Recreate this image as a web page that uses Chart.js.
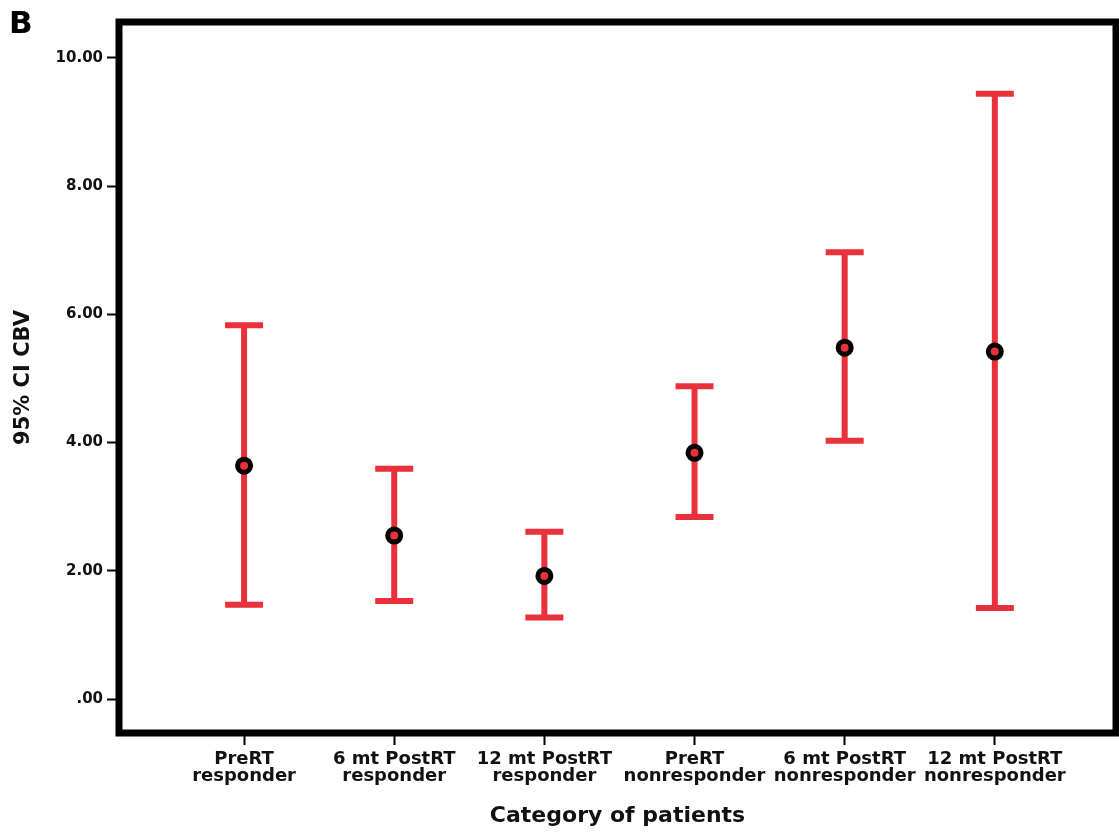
<!DOCTYPE html>
<html>
<head>
<meta charset="utf-8">
<script src="https://cdn.jsdelivr.net/npm/chart.js@4.4.1/dist/chart.umd.min.js"></script>
<style>
html,body{margin:0;padding:0;background:#fff;overflow:hidden;}
#wrap{width:1119px;height:834px;position:relative;overflow:hidden;}
canvas{display:block;}
</style>
</head>
<body>
<div id="wrap"><canvas id="c"></canvas></div>
<script>
const categories = [
  ["PreRT", "responder"],
  ["6 mt PostRT", "responder"],
  ["12 mt PostRT", "responder"],
  ["PreRT", "nonresponder"],
  ["6 mt PostRT", "nonresponder"],
  ["12 mt PostRT", "nonresponder"]
];
const means = [3.64, 2.55, 1.92, 3.84, 5.48, 5.42];
const lower = [1.47, 1.53, 1.27, 2.84, 4.03, 1.42];
const upper = [5.83, 3.59, 2.61, 4.88, 6.97, 9.44];
const yTicks = [0, 2, 4, 6, 8, 10];

const RED = '#e8313b';
const FONT = "'DejaVu Sans', 'Liberation Sans', Arial, sans-serif";

const errorBars = {
  id: 'errorBars',
  beforeDatasetsDraw(chart) {
    const {ctx, scales: {x, y}} = chart;
    ctx.save();
    ctx.strokeStyle = RED;
    ctx.lineWidth = 6;
    ctx.lineCap = 'butt';
    for (let i = 0; i < means.length; i++) {
      const px = x.getPixelForValue(i);
      const pu = y.getPixelForValue(upper[i]);
      const pl = y.getPixelForValue(lower[i]);
      ctx.beginPath();
      ctx.moveTo(px, pu);
      ctx.lineTo(px, pl);
      ctx.moveTo(px - 19, pu);
      ctx.lineTo(px + 19, pu);
      ctx.moveTo(px - 19, pl);
      ctx.lineTo(px + 19, pl);
      ctx.stroke();
    }
    ctx.restore();
  }
};

const frame = {
  id: 'frame',
  afterDraw(chart) {
    const {ctx, chartArea: a} = chart;
    ctx.save();
    ctx.strokeStyle = '#000';
    ctx.lineWidth = 7;
    ctx.strokeRect(a.left, a.top, a.right - a.left, a.bottom - a.top);
    ctx.fillStyle = '#000';
    ctx.font = "bold 31px " + FONT;
    ctx.textBaseline = 'alphabetic';
    ctx.textAlign = 'left';
    ctx.fillText('B', 9, 33);
    ctx.restore();
  }
};

new Chart(document.getElementById('c'), {
  type: 'scatter',
  data: {
    datasets: [{
      data: means.map((m, i) => ({x: i, y: m})),
      pointRadius: 6.5,
      pointHoverRadius: 6.5,
      pointBorderWidth: 5,
      pointBorderColor: '#000',
      pointBackgroundColor: RED
    }]
  },
  options: {
    responsive: true,
    maintainAspectRatio: false,
    animation: false,
    devicePixelRatio: 1,
    layout: {autoPadding: false, padding: {top: 22, right: 3, left: 0, bottom: 0}},
    plugins: {legend: {display: false}, tooltip: {enabled: false}},
    scales: {
      x: {
        type: 'linear',
        min: -0.833,
        max: 5.807,
        afterFit(s) { s.height = 101; s.paddingLeft = 0; s.paddingRight = 0; },
        afterBuildTicks(s) { s.ticks = categories.map((c, i) => ({value: i})); },
        grid: {drawOnChartArea: false, drawTicks: true, tickLength: 12, tickWidth: 2, tickColor: '#000'},
        border: {display: false},
        ticks: {
          autoSkip: false,
          maxRotation: 0,
          padding: 6,
          color: '#111',
          font: {family: FONT, weight: 'bold', size: 18, lineHeight: 0.95},
          callback(v) { return categories[v] || ''; }
        },
        title: {
          display: true,
          text: 'Category of patients',
          color: '#111',
          font: {family: FONT, weight: 'bold', size: 22},
          padding: {top: 0, bottom: 5}
        }
      },
      y: {
        type: 'linear',
        min: -0.53,
        max: 10.56,
        afterFit(s) { s.width = 119; s.paddingTop = 0; s.paddingBottom = 0; },
        afterBuildTicks(s) { s.ticks = yTicks.map(v => ({value: v})); },
        grid: {drawOnChartArea: false, drawTicks: true, tickLength: 12, tickWidth: 2, tickColor: '#000'},
        border: {display: false},
        ticks: {
          padding: 4,
          color: '#111',
          font: {family: FONT, weight: 'bold', size: 15},
          callback(v) { return v === 0 ? '.00' : v.toFixed(2); }
        },
        title: {
          display: true,
          text: '95% CI CBV',
          color: '#111',
          font: {family: FONT, weight: 'bold', size: 21},
          padding: {top: 11, bottom: 0}
        }
      }
    }
  },
  plugins: [errorBars, frame]
});
</script>
</body>
</html>
